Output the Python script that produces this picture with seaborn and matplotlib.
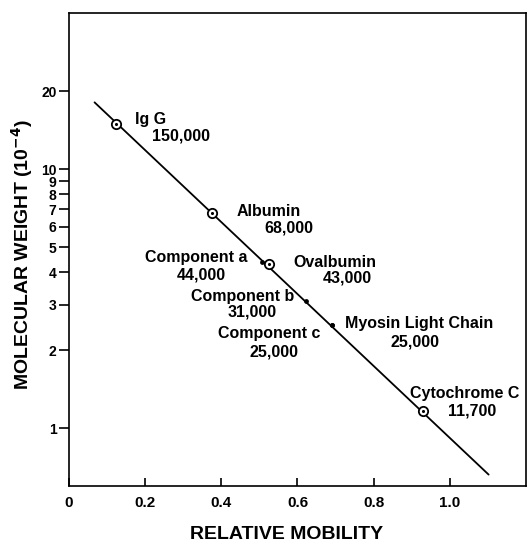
import matplotlib
matplotlib.use("Agg")
import matplotlib.pyplot as plt
import matplotlib.ticker as mticker
import pandas as pd
import seaborn as sns

sns.set_theme(style="ticks")
plt.rcParams["font.family"] = ["Liberation Sans", "DejaVu Sans"]
plt.rcParams["font.weight"] = "bold"
plt.rcParams.update({"text.color": "black", "axes.labelcolor": "black",
                     "xtick.color": "black", "ytick.color": "black"})

# marker proteins (open circles)
std_names = ["Ig G", "Albumin", "Ovalbumin", "Cytochrome C"]
std_mw_text = ["150,000", "68,000", "43,000", "11,700"]
std_mobility = [0.124, 0.376, 0.526, 0.930]
std_mw = [15.0, 6.8, 4.3, 1.17]

# sample bands (small dots)
comp_names = ["Component a", "Component b", "Component c", "Myosin Light Chain"]
comp_mw_text = ["44,000", "31,000", "25,000", "25,000"]
comp_mobility = [0.508, 0.622, 0.690, 0.690]
comp_mw = [4.4, 3.1, 2.5, 2.5]

# fitted line end points
fit_mobility = [0.067, 1.102]
fit_mw = [18.1, 0.664]

y_ticks = [1, 2, 3, 4, 5, 6, 7, 8, 9, 10, 20]
x_ticks = [0, 0.2, 0.4, 0.6, 0.8, 1.0]
x_tick_labels = ["0", "0.2", "0.4", "0.6", "0.8", "1.0"]

std = pd.DataFrame({"mobility": std_mobility, "mw": std_mw})
comp = pd.DataFrame({"mobility": comp_mobility, "mw": comp_mw})
fit = pd.DataFrame({"mobility": fit_mobility, "mw": fit_mw})

fig = plt.figure(figsize=(5.27, 5.44), dpi=100)
ax = fig.add_axes([0.131, 0.1066, 0.867, 0.8694])

sns.lineplot(data=fit, x="mobility", y="mw", color="black", lw=1.3, ax=ax)
sns.scatterplot(data=std, x="mobility", y="mw", s=45, facecolor="white",
                edgecolor="black", linewidth=1.3, zorder=3, ax=ax)
sns.scatterplot(data=std, x="mobility", y="mw", s=5, color="black",
                linewidth=0, zorder=4, ax=ax)
sns.scatterplot(data=comp, x="mobility", y="mw", s=12, color="black",
                linewidth=0, zorder=3, ax=ax)

ax.set_yscale("log")
ax.set_xlim(0, 1.2)
ax.set_ylim(0.6, 40)
ax.yaxis.set_major_locator(mticker.FixedLocator(y_ticks))
ax.yaxis.set_major_formatter(mticker.FixedFormatter([str(v) for v in y_ticks]))
ax.yaxis.set_minor_locator(mticker.NullLocator())
ax.set_xticks(x_ticks)
ax.set_xticklabels(x_tick_labels)
ax.tick_params(axis="x", direction="in", length=6, width=1.2, pad=7, labelsize=11)
ax.tick_params(axis="y", direction="out", length=7, width=1.2, pad=2, labelsize=10)
for side in ["left", "bottom", "right", "top"]:
    ax.spines[side].set_linewidth(1.2)
    ax.spines[side].set_color("black")

ax.set_xlabel("RELATIVE MOBILITY", fontsize=14, fontweight="bold", va="baseline")
ax.set_ylabel("MOLECULAR WEIGHT (10$^{\\mathbf{-4}}$)", fontsize=14,
              fontweight="bold", va="center")
ax.xaxis.set_label_coords(0.476, -0.113)
ax.yaxis.set_label_coords(-0.103, 0.49)

# label placement: (name dx, dy, ha), (value dx, dy, ha) in pixels from the point
std_offsets = [
    ((19, 4, "left"), (36, -12, "left")),
    ((24, 1, "left"), (52, -15, "left")),
    ((24, 2, "left"), (53, -14, "left")),
    ((-13, 17, "left"), (25, 0, "left")),
]
comp_offsets = [
    ((-15, 4, "right"), (-37, -13, "right")),
    ((-12, 5, "right"), (-29, -11, "right")),
    ((-11, -8, "right"), (-33, -27, "right")),
    ((13, 2, "left"), (59, -17, "left")),
]

def put_labels(names, values, xs, ys, offsets):
    for name, val, x, y, (a, b) in zip(names, values, xs, ys, offsets):
        ax.annotate(name, (x, y), xytext=(a[0], a[1]), textcoords="offset pixels",
                    ha=a[2], va="center", fontsize=11.5, fontweight="bold")
        ax.annotate(val, (x, y), xytext=(b[0], b[1]), textcoords="offset pixels",
                    ha=b[2], va="center", fontsize=11.5, fontweight="bold")

put_labels(std_names, std_mw_text, std_mobility, std_mw, std_offsets)
put_labels(comp_names, comp_mw_text, comp_mobility, comp_mw, comp_offsets)

fig.savefig("out.png", dpi=100)
